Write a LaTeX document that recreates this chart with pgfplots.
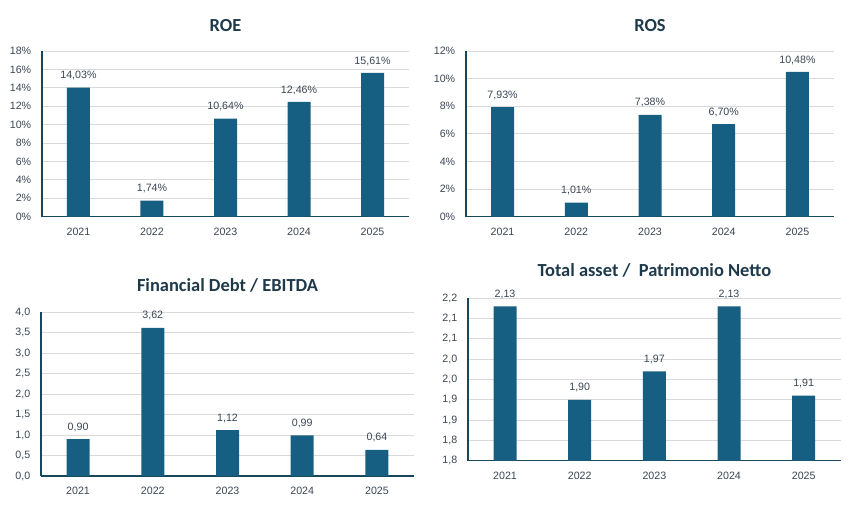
\documentclass[border=0pt]{standalone}
\usepackage{pgfplots}
\pgfplotsset{compat=1.18}
\usepackage{fontspec}
\setmainfont{Liberation Sans}
\newfontfamily\titlefont{Carlito}
\definecolor{barc}{HTML}{175F82}
\definecolor{axc}{HTML}{16475C}
\definecolor{txt}{HTML}{3A4654}
\definecolor{ttl}{HTML}{1E3A4A}
\definecolor{grd}{HTML}{D9D9D9}
\pgfplotsset{
  kpi/.style={
    scale only axis,
    anchor=south west,
    xmin=-0.5, xmax=4.5,
    xtick={0,1,2,3,4},
    xticklabels={2021,2022,2023,2024,2025},
    axis lines=left,
    axis line style={axc, line width=1.6bp, -},
    major tick length=0pt,
    ymajorgrids=true,
    grid style={grd, line width=0.8bp},
    tick label style={font=\fontsize{10.7}{12}\selectfont, text=txt},
    xticklabel style={yshift=-8bp},
    yticklabel style={xshift=-7bp},
    title style={font=\titlefont\bfseries\fontsize{18.5}{21}\selectfont, text=ttl},
    clip=false,
  },
  kpibar/.style={
    ybar, bar width=23bp, fill=barc, draw=none,
    point meta=explicit symbolic,
    nodes near coords,
    nodes near coords style={font=\fontsize{10.7}{12}\selectfont, text=txt, anchor=south, yshift=4bp},
  },
}
\begin{document}
\begin{tikzpicture}[x=1bp,y=1bp]
\path[use as bounding box] (0,0) rectangle (857,520);

% ROE
\begin{axis}[kpi, at={(41.7bp,303.3bp)}, width=367.6bp, height=165.7bp,
  ymin=0, ymax=18, ytick={0,2,...,18},
  yticklabels={0\%,2\%,4\%,6\%,8\%,10\%,12\%,14\%,16\%,18\%},
  title={ROE}, title style={at={(0.5,1)}, yshift=10bp}]
\addplot[kpibar] coordinates {(0,14.03) [14,03\%] (1,1.74) [1,74\%] (2,10.64) [10,64\%] (3,12.46) [12,46\%] (4,15.61) [15,61\%]};
\end{axis}

% ROS
\begin{axis}[kpi, at={(465.7bp,303.3bp)}, width=368.6bp, height=165.7bp,
  ymin=0, ymax=12, ytick={0,2,...,12},
  yticklabels={0\%,2\%,4\%,6\%,8\%,10\%,12\%},
  title={ROS}, title style={at={(0.5,1)}, yshift=10bp}]
\addplot[kpibar] coordinates {(0,7.93) [7,93\%] (1,1.01) [1,01\%] (2,7.38) [7,38\%] (3,6.70) [6,70\%] (4,10.48) [10,48\%]};
\end{axis}

% Financial Debt / EBITDA
\begin{axis}[kpi, at={(40.7bp,44bp)}, width=373.6bp, height=163.7bp,
  ymin=0, ymax=4, ytick={0,0.5,...,4},
  yticklabels={{0,0},{0,5},{1,0},{1,5},{2,0},{2,5},{3,0},{3,5},{4,0}},
  title={Financial Debt / EBITDA}, title style={at={(0.5,1)}, yshift=10bp}]
\addplot[kpibar] coordinates {(0,0.90) [{0,90}] (1,3.62) [{3,62}] (2,1.12) [{1,12}] (3,0.99) [{0,99}] (4,0.64) [{0,64}]};
\end{axis}

% Total asset / Patrimonio Netto
\begin{axis}[kpi, at={(467.7bp,59.3bp)}, width=373.3bp, height=162.4bp,
  ymin=1.75, ymax=2.15, ytick={1.75,1.80,1.85,1.90,1.95,2.00,2.05,2.10,2.15},
  yticklabels={{1,8},{1,8},{1,9},{1,9},{2,0},{2,0},{2,1},{2,1},{2,2}},
  title={Total asset /\ \ Patrimonio Netto}, title style={at={(0.5,1)}, yshift=11bp}]
\addplot[kpibar] coordinates {(0,2.13) [{2,13}] (1,1.90) [{1,90}] (2,1.97) [{1,97}] (3,2.13) [{2,13}] (4,1.91) [{1,91}]};
\end{axis}
\end{tikzpicture}
\end{document}
